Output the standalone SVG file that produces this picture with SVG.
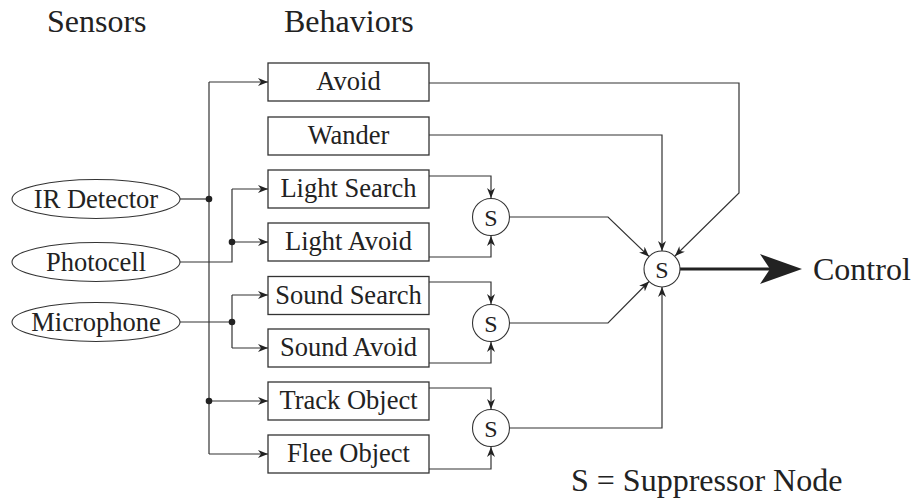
<svg xmlns="http://www.w3.org/2000/svg" width="912" height="498" viewBox="0 0 912 498">
<style>
text{font-family:"Liberation Serif","Times New Roman",serif;fill:#222;}
.t{font-size:32px;}
.b{font-size:26.5px;text-anchor:middle;}
.box{fill:#fff;stroke:#333;stroke-width:1.3;}
.ell{fill:#fff;stroke:#333;stroke-width:1.1;}
.sc{fill:#fff;stroke:#333;stroke-width:1.1;}
.s{font-size:24px;text-anchor:middle;}
.ln{fill:none;stroke:#333;stroke-width:1.2;}
.ar{fill:none;stroke:#333;stroke-width:1.2;marker-end:url(#ah);}
</style>
<defs>
<marker id="ah" markerUnits="userSpaceOnUse" markerWidth="10" markerHeight="8" refX="10" refY="4" orient="auto" viewBox="0 0 10 8">
<path d="M0,0 L10,4 L0,8 L3,4 z" fill="#222"/>
</marker>
</defs>
<text class="t" x="47" y="32">Sensors</text>
<text class="t" x="284" y="32">Behaviors</text>
<g id="connectors">
<path class="ln" d="M209,82 V454"/>
<path class="ar" d="M209,82 H268"/>
<path class="ln" d="M180,199 H209"/>
<path class="ar" d="M209,401 H268"/>
<path class="ar" d="M209,454 H268"/>
<path class="ln" d="M180,262 H232 V189"/>
<path class="ar" d="M232,189 H268"/>
<path class="ar" d="M232,242 H268"/>
<path class="ln" d="M180,322 H232"/>
<path class="ln" d="M232,295 V348"/>
<path class="ar" d="M232,295 H268"/>
<path class="ar" d="M232,348 H268"/>
<circle cx="209" cy="199" r="3.3" fill="#222"/>
<circle cx="209" cy="401" r="3.3" fill="#222"/>
<circle cx="232" cy="242" r="3.3" fill="#222"/>
<circle cx="232" cy="322" r="3.3" fill="#222"/>
<path class="ar" d="M429,176 H491 V198"/>
<path class="ar" d="M429,257 H491 V236"/>
<path class="ar" d="M429,282 H491 V304"/>
<path class="ar" d="M429,363 H491 V342"/>
<path class="ar" d="M429,388 H491 V409"/>
<path class="ar" d="M429,469 H491 V447"/>
<path class="ar" d="M510,217 H608 L649,256.5"/>
<path class="ar" d="M510,323 H608 L649,281.5"/>
<path class="ar" d="M429,83 H739 V193 L675,256"/>
<path class="ar" d="M429,135 H662 V251"/>
<path class="ar" d="M510,428 H662 V287"/>
<path d="M680,269 H772" fill="none" stroke="#222" stroke-width="3.2"/>
<path d="M802,269 L760,254 L770,269 L760,284 z" fill="#222"/>
</g>
<g id="ir"><ellipse class="ell" cx="96" cy="199" rx="84" ry="19.5"/><text class="b" x="96" y="208">IR Detector</text></g>
<g id="photocell"><ellipse class="ell" cx="96" cy="262" rx="84" ry="19.5"/><text class="b" x="96" y="271">Photocell</text></g>
<g id="microphone"><ellipse class="ell" cx="96" cy="322" rx="84" ry="19.5"/><text class="b" x="96" y="331">Microphone</text></g>
<g id="avoid"><rect class="box" x="268" y="63" width="161" height="38"/><text class="b" x="348.5" y="90">Avoid</text></g>
<g id="wander"><rect class="box" x="268" y="117" width="161" height="38"/><text class="b" x="348.5" y="144">Wander</text></g>
<g id="lightsearch"><rect class="box" x="268" y="170" width="161" height="38"/><text class="b" x="348.5" y="197">Light Search</text></g>
<g id="lightavoid"><rect class="box" x="268" y="223" width="161" height="38"/><text class="b" x="348.5" y="250">Light Avoid</text></g>
<g id="soundsearch"><rect class="box" x="268" y="276.5" width="161" height="38"/><text class="b" x="348.5" y="303.5">Sound Search</text></g>
<g id="soundavoid"><rect class="box" x="268" y="329" width="161" height="38"/><text class="b" x="348.5" y="356">Sound Avoid</text></g>
<g id="trackobject"><rect class="box" x="268" y="382" width="161" height="38"/><text class="b" x="348.5" y="409">Track Object</text></g>
<g id="fleeobject"><rect class="box" x="268" y="435" width="161" height="38"/><text class="b" x="348.5" y="462">Flee Object</text></g>
<g id="s1"><circle class="sc" cx="491" cy="217" r="18.5"/><text class="s" x="491" y="225.5">S</text></g>
<g id="s2"><circle class="sc" cx="491" cy="323" r="18.5"/><text class="s" x="491" y="331.5">S</text></g>
<g id="s3"><circle class="sc" cx="491" cy="428" r="18.5"/><text class="s" x="491" y="436.5">S</text></g>
<g id="smain"><circle class="sc" cx="662" cy="269" r="18"/><text class="s" x="662" y="277.5">S</text></g>
<g id="control"><text class="t" x="813" y="280">Control</text></g>
<text class="t" x="571" y="491">S = Suppressor Node</text>
</svg>
